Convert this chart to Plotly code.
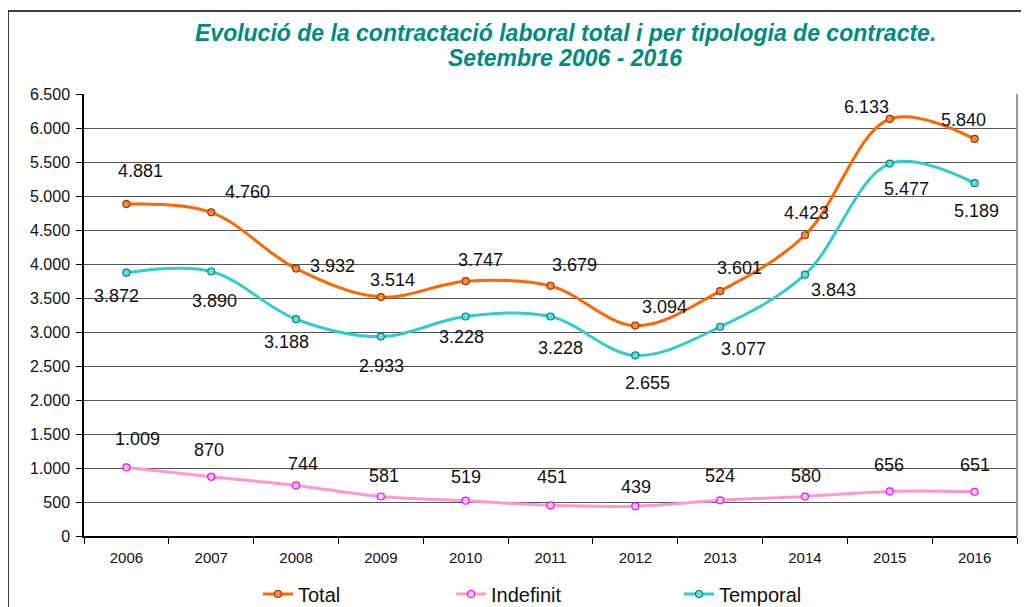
import plotly.graph_objects as go

years = ["2006", "2007", "2008", "2009", "2010", "2011", "2012", "2013", "2014", "2015", "2016"]
total = [4881, 4760, 3932, 3514, 3747, 3679, 3094, 3601, 4423, 6133, 5840]
indefinit = [1009, 870, 744, 581, 519, 451, 439, 524, 580, 656, 651]
temporal = [3872, 3890, 3188, 2933, 3228, 3228, 2655, 3077, 3843, 5477, 5189]

# label pixel offsets (dx, dy) relative to each point
off_total = [(14, 33), (36, 20), (36, 3), (12, 17), (15, 21), (24, 21), (29, 19), (19, 23), (2, 22), (-23, 12), (-11, 19)]
off_temp = [(-10, -23), (3, -30), (-10, -23), (1, -29), (-4, -20), (10, -31), (12, -28), (23, -22), (29, -15), (17, -25), (2, -28)]
off_indef = [(11, 28), (-2, 27), (7, 21), (3, 20), (0, 24), (1, 28), (1, 19), (0, 24), (1, 21), (-1, 26), (0, 27)]

FONT = "Liberation Sans, Arial, sans-serif"
OFF = 8  # page body margin
W, H = 1029 - OFF, 607 - OFF
L, T = 84 - OFF, 94 - OFF
R = W - (1017 - OFF)
B = H - (536 - OFF)
PW, PH = W - L - R, H - T - B


def fmt(v):
    return f"{v:,}".replace(",", ".")


def px(xp):
    return (xp - OFF - L) / PW


def py(yp):
    return (H - B - (yp - OFF)) / PH


fig = go.Figure()
series = [
    ("Total", total, "#FF6600", "#FF8C3A", "#993300", off_total, "legend", 257),
    ("Indefinit", indefinit, "#FF99CC", "#FFCCEE", "#FF00FF", off_indef, "legend2", 450),
    ("Temporal", temporal, "#33CCCC", "#66DDDD", "#008080", off_temp, "legend3", 678),
]
legends = {}
for name, vals, lc, mfill, medge, offs, leg, lx in series:
    fig.add_trace(go.Scatter(
        x=years, y=vals, name=name, mode="lines+markers", legend=leg,
        line=dict(color=lc, width=3, shape="spline", smoothing=1.0),
        marker=dict(symbol="circle", size=7, color=mfill, line=dict(color=medge, width=1.2)),
    ))
    for i, (yv, (dx, dy)) in enumerate(zip(vals, offs)):
        fig.add_annotation(x=i, y=yv, text=fmt(yv), showarrow=False,
                           xshift=dx, yshift=dy,
                           font=dict(family=FONT, size=18, color="#111111"))
    legends[leg] = dict(orientation="h", x=px(lx + 1), xanchor="left", y=py(594), yanchor="middle",
                        font=dict(family=FONT, size=20, color="#111111"),
                        bgcolor="rgba(0,0,0,0)")

# title as two centred lines
fig.add_annotation(xref="paper", yref="paper", x=px(565), y=py(33), yanchor="middle", showarrow=False,
                   text="<b><i>Evolució de la contractació laboral total i per tipologia de contracte.</i></b>",
                   font=dict(family=FONT, size=23, color="#008B80"))
fig.add_annotation(xref="paper", yref="paper", x=px(565), y=py(58), yanchor="middle", showarrow=False,
                   text="<b><i>Setembre 2006 - 2016</i></b>",
                   font=dict(family=FONT, size=23, color="#008B80"))

# outer frame (top and left edges visible)
fig.add_shape(type="line", xref="paper", yref="paper", x0=px(8), x1=px(1045), y0=py(11), y1=py(11),
              line=dict(color="#000000", width=1.5))
fig.add_shape(type="line", xref="paper", yref="paper", x0=px(8), x1=px(8), y0=py(11), y1=py(640),
              line=dict(color="#000000", width=1.5))
# right border of plot area
fig.add_shape(type="line", xref="paper", yref="paper", x0=1, x1=1, y0=0, y1=1,
              line=dict(color="#999999", width=2))

fig.update_layout(
    width=W, height=H,
    margin=dict(l=L, r=R, t=T, b=B, autoexpand=False),
    paper_bgcolor="white", plot_bgcolor="white",
    separators=",.",
    font=dict(family=FONT, color="#111111"),
    showlegend=True,
    **legends,
)
fig.update_xaxes(
    type="category", range=[-0.5, 10.5], showline=True, linecolor="#000000", linewidth=1.5,
    ticks="outside", tickson="boundaries", ticklen=6, tickcolor="#000000",
    showgrid=False, tickfont=dict(size=15, color="#111111"), tickangle=0,
    ticklabelstandoff=7,
)
fig.update_yaxes(
    range=[0, 6500], dtick=500, tickformat=",d",
    showline=True, linecolor="#000000", linewidth=1.5,
    ticks="outside", ticklen=6, tickcolor="#000000",
    showgrid=True, gridcolor="#555555", gridwidth=1,
    tickfont=dict(size=16, color="#111111"), zeroline=False,
    ticklabelstandoff=3,
)

fig.write_html("out.html")
